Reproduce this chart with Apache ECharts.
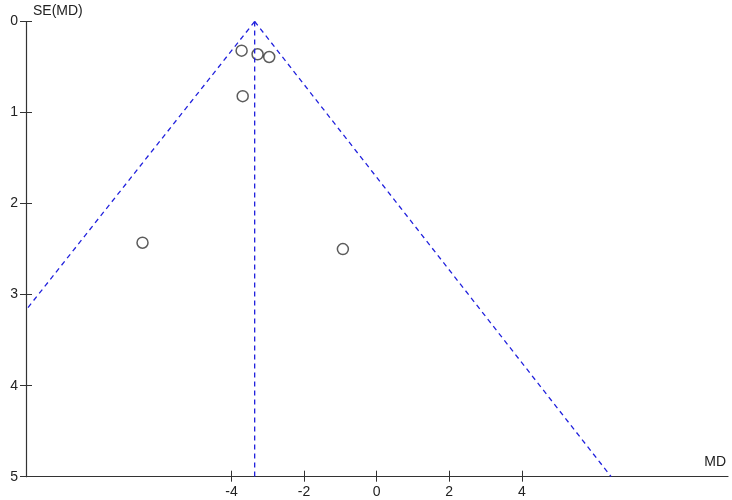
<!DOCTYPE html>
<html>
<head>
<meta charset="utf-8">
<style>
  html, body { margin: 0; padding: 0; background: #fff; }
  #chart-container { width: 732px; height: 500px; }
</style>
<script src="https://cdn.jsdelivr.net/npm/echarts@6/dist/echarts.min.js"></script>
</head>
<body>
<div id="chart-container"></div>
<script>
var dom = document.getElementById('chart-container');
var myChart = echarts.init(dom, null, { renderer: 'canvas' });

// studies: [MD, SE(MD)]
var studies = [
  [-3.72, 0.32],
  [-3.28, 0.36],
  [-2.96, 0.39],
  [-3.69, 0.82],
  [-6.45, 2.43],
  [-0.93, 2.50]
];
// funnel lines
var pooledLine = [[-3.36, 0], [-3.36, 5]];
var funnelLeft = [[-3.36, 0], [-9.66, 3.17]];
var funnelRight = [[-3.36, 0], [6.46, 5]];
var xTicks = [-4, -2, 0, 2, 4];
var xMin = -9.66, xMax = 9.68;

var textStyle = { color: '#222', fontFamily: 'Liberation Sans', fontSize: 14 };
var dashStyle = { color: '#2222dd', width: 1.3, type: [5, 4] };

var option = {
  animation: false,
  grid: { left: 26, right: 4, top: 21.5, bottom: 23.3 },
  xAxis: [
    {
      type: 'value', min: xMin, max: xMax,
      splitLine: { show: false },
      axisLine: { onZero: false, lineStyle: { color: '#333', width: 1.2 } },
      axisTick: { customValues: xTicks, length: 5, lineStyle: { color: '#333' } },
      axisLabel: Object.assign({ customValues: xTicks, margin: 8 }, textStyle)
    },
    {
      type: 'value', min: xMin, max: xMax, position: 'bottom',
      splitLine: { show: false },
      axisLine: { show: false, onZero: false },
      axisTick: { inside: true, customValues: xTicks, length: 6, lineStyle: { color: '#333' } },
      axisLabel: { show: false }
    }
  ],
  yAxis: [
    {
      type: 'value', min: 0, max: 5, interval: 1, inverse: true,
      splitLine: { show: false },
      axisLine: { onZero: false, lineStyle: { color: '#333', width: 1.2 } },
      axisTick: { length: 6, lineStyle: { color: '#333' } },
      axisLabel: Object.assign({ margin: 8 }, textStyle)
    },
    {
      type: 'value', min: 0, max: 5, interval: 1, inverse: true, position: 'left',
      splitLine: { show: false },
      axisLine: { show: false, onZero: false },
      axisTick: { inside: true, length: 6, lineStyle: { color: '#333' } },
      axisLabel: { show: false }
    }
  ],
  graphic: [
    { type: 'text', left: 33, top: 4, style: { text: 'SE(MD)', fill: '#222', font: '14px "Liberation Sans"' } },
    { type: 'text', right: 6, top: 455, style: { text: 'MD', fill: '#222', font: '14px "Liberation Sans"' } }
  ],
  series: [
    { type: 'line', data: pooledLine, symbol: 'none', lineStyle: dashStyle, silent: true },
    { type: 'line', data: funnelLeft, symbol: 'none', lineStyle: dashStyle, silent: true },
    { type: 'line', data: funnelRight, symbol: 'none', lineStyle: dashStyle, silent: true },
    {
      type: 'scatter', data: studies, symbol: 'circle', symbolSize: 11,
      itemStyle: { color: 'rgba(255,255,255,0)', borderColor: '#333', borderWidth: 1.5 }
    }
  ]
};

myChart.setOption(option);
window.addEventListener('resize', myChart.resize);
</script>
</body>
</html>
